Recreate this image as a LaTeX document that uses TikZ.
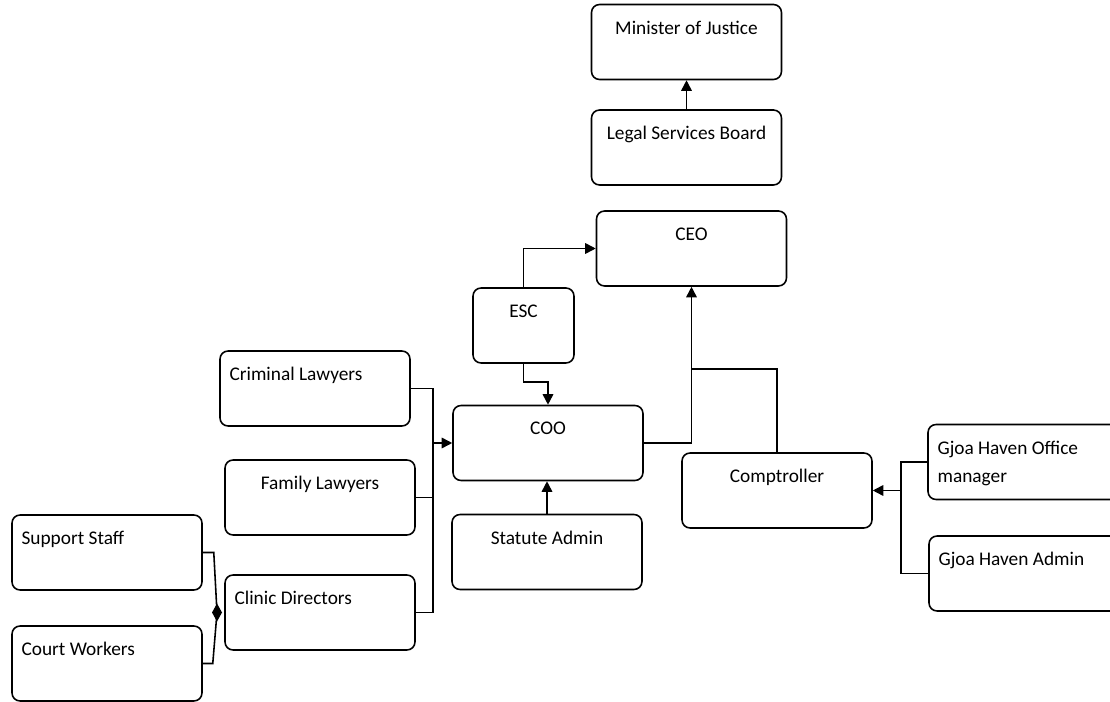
\documentclass[tikz,border=0pt]{standalone}
\usepackage{fontspec}
\setmainfont{Carlito}
\usetikzlibrary{arrows.meta}

\tikzset{
  orgbox/.style={draw, line width=0.9pt, rounded corners=0.16cm, inner sep=0pt,
    minimum width=3.8cm, minimum height=1.5cm},
  every label/.style={inner sep=0pt, font=\fontsize{11}{16}\selectfont},
  toplabel/.style={label={[anchor=north, yshift=-0.34cm]north:#1}},
  leftlabel/.style={label={[anchor=north west, align=left, xshift=0.2cm, yshift=-0.34cm]north west:#1}},
  link/.style={line width=0.9pt, -{Triangle[length=0.21cm, width=0.21cm]}},
  wire/.style={line width=0.9pt}
}

\begin{document}
\begin{tikzpicture}[x=0.02cm, y=-0.02cm]
  \useasboundingbox (0,0) rectangle (1110,702);
  \node[orgbox, toplabel={Minister of Justice}] (moj) at (686.5,42) {};
  \node[orgbox, toplabel={Legal Services Board}] (lsb) at (686.5,147.5) {};
  \node[orgbox, toplabel={CEO}] (ceo) at (691.5,248.5) {};
  \node[orgbox, minimum width=2.02cm, toplabel={ESC}] (esc) at (523.5,325.5) {};
  \node[orgbox, toplabel={COO}] (coo) at (548,443) {};
  \node[orgbox, toplabel={Statute Admin}] (stat) at (547,552) {};
  \node[orgbox, toplabel={Comptroller}] (comp) at (777,490.5) {};
  \node[orgbox, leftlabel={Criminal Lawyers}] (crim) at (315,388.5) {};
  \node[orgbox, toplabel={Family Lawyers}] (fam) at (320,497.5) {};
  \node[orgbox, leftlabel={Clinic Directors}] (clin) at (320,612.5) {};
  \node[orgbox, leftlabel={Support Staff}] (supp) at (107,552.5) {};
  \node[orgbox, leftlabel={Court Workers}] (court) at (107,663.5) {};
  \node[orgbox, minimum width=4cm, leftlabel={Gjoa Haven Office\\manager}] (gjoff) at (1028,462) {};
  \node[orgbox, minimum width=4cm, leftlabel={Gjoa Haven Admin}] (gjadm) at (1029,573.5) {};

  \coordinate (lbus) at (433,443);
  \coordinate (rbus) at (901,490.5);
  \coordinate (cjoin) at (691.5,369);
  \coordinate (dmd) at (217,612.5);

  \draw[link] (lsb) -- (moj);
  \draw[link] (esc.north) |- (ceo.west);
  \draw[link] (esc.south) -- ++(0,18) -| (coo.north);
  \draw[link] (stat.north) -- (stat.north |- coo.south);
  \draw[link] (coo.east) -| (ceo.south);
  \draw[wire] (comp.north) |- (cjoin);
  \draw[wire] (crim.east) -| (lbus);
  \draw[wire] (fam.east) -| (lbus);
  \draw[wire] (clin.east) -| (lbus);
  \draw[link] (lbus) -- (coo.west);
  \draw[wire] (gjoff.west) -| (rbus);
  \draw[wire] (gjadm.west) -| (rbus);
  \draw[link] (rbus) -- (comp.east);
  \draw[wire] (supp.east) -- ++(11,0) -- (dmd);
  \draw[wire] (court.east) -- ++(10,0) -- (dmd);
  \fill (dmd) +(-5,0) -- +(0,-9) -- +(5,0) -- +(0,9) -- cycle;
\end{tikzpicture}
\end{document}
